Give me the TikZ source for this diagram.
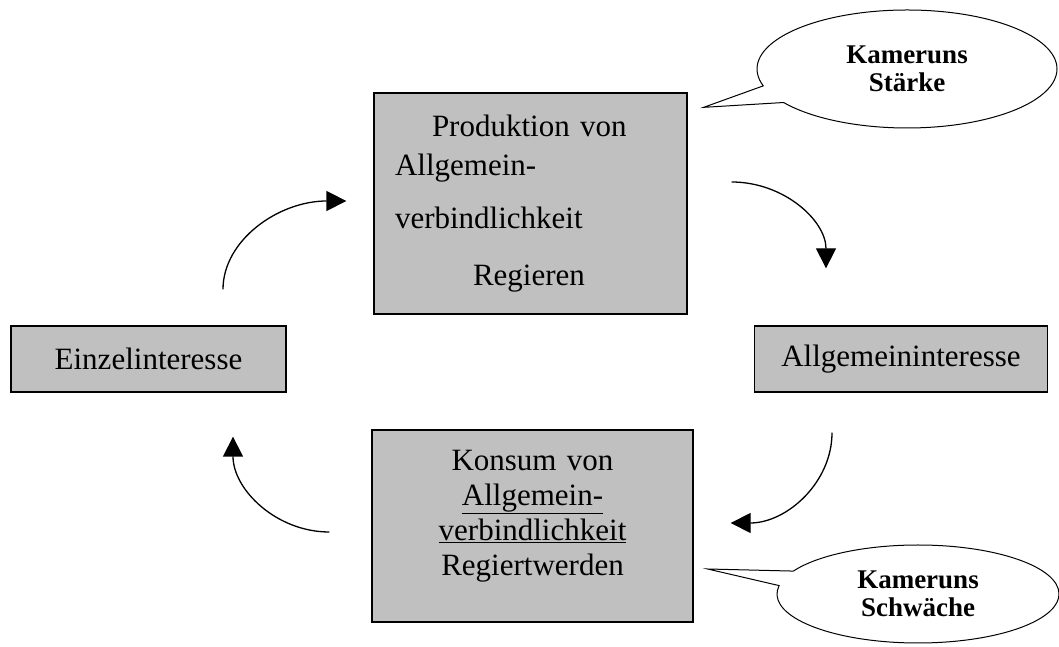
\documentclass[tikz,border=0pt]{standalone}
\usepackage{fontspec}
\setmainfont{Liberation Serif}
\usepackage{xcolor}
\usepackage{tikz}
\usetikzlibrary{positioning,shapes.callouts,arrows.meta}
\definecolor{boxgray}{RGB}{192,192,192}

\begin{document}
\begin{tikzpicture}[
				x=1pt, y=1pt,
				block/.style = {draw, rectangle, line width=1.3pt, fill=boxgray, font=\fontsize{31}{36}\selectfont},
				bubble/.style = {ellipse callout, draw, line width=1pt, fill=white, align=center, inner sep=0pt, callout pointer arc=18, font=\bfseries\fontsize{27}{28}\selectfont},
				arrow/.style = {draw, line width=1.3pt, -{Triangle[length=20pt,width=20pt]}}
			]
			\useasboundingbox (0,0) rectangle (1059,647);

			% Knoten
			\node [block, minimum width=313pt, minimum height=221pt, text width=271pt, align=left] (produktion) at (530.5,443.5)
				{\hspace*{37pt}Produktion von\\[3pt]Allgemein-\\[17pt]verbindlichkeit\\[21pt]\hspace*{78pt}Regieren};
			\node [block, minimum width=321pt, minimum height=192pt, text width=290pt, align=center, font=\fontsize{31}{35}\selectfont] (konsum) at (532.5,121)
				{Konsum von\\\underline{Allgemein-}\\\underline{verbindlichkeit}\\Regiertwerden\\[-8pt]\mbox{}};
			\node [block, minimum width=275pt, minimum height=66pt] (einzel) at (148.5,288) {Einzelinteresse};
			\node [block, minimum width=293pt, minimum height=66pt] (allgemein) at (901,288) {Allgemeininteresse};

			% Sprechblasen
			\coordinate (staerkeptr) at ([xshift=16pt, yshift=-15pt] produktion.north east);
			\coordinate (schwaecheptr) at ([xshift=14pt, yshift=-43pt] konsum.east);
			\node [bubble, minimum width=300pt, minimum height=118pt, callout absolute pointer={(staerkeptr)}] (staerke) at (907,578) {Kameruns\\Stärke};
			\node [bubble, minimum width=282pt, minimum height=98pt, callout absolute pointer={(schwaecheptr)}] (schwaeche) at (918,53) {Kameruns\\Schwäche};

			% Pfeile
			\draw [arrow] ([xshift=74.5pt, yshift=36pt] einzel.north) .. controls +(0,49) and +(-68,0) .. ([xshift=-27pt, yshift=2.5pt] produktion.west);
			\draw [arrow] ([xshift=44pt, yshift=21.5pt] produktion.east) .. controls +(52,0) and +(0,48) .. ([xshift=-75pt, yshift=57pt] allgemein.north);
			\draw [arrow] ([xshift=-69pt, yshift=-40pt] allgemein.south) .. controls +(0,-50) and +(56,0) .. ([xshift=37pt, yshift=3pt] konsum.east);
			\draw [arrow] ([xshift=-42pt, yshift=-6pt] konsum.west) .. controls +(-53,0) and +(0,-53) .. ([xshift=84.5pt, yshift=-44pt] einzel.south);
		\end{tikzpicture}
\end{document}
